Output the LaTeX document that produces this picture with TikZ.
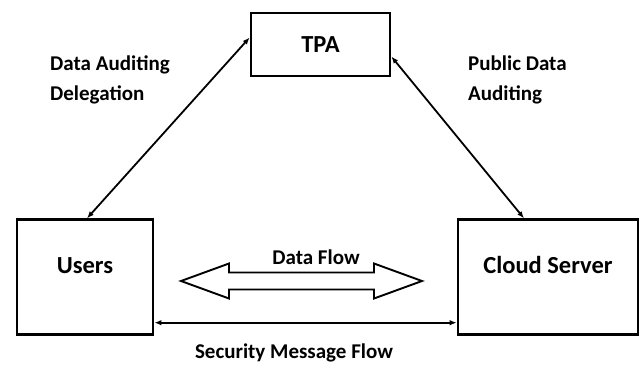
\documentclass[tikz,border=0pt]{standalone}
\usepackage{fontspec}
\setmainfont{Carlito}
\usetikzlibrary{arrows.meta,positioning,calc}

\begin{document}
\begin{tikzpicture}[x=1pt, y=-1pt,
      arr/.style={{Latex[length=7pt,width=5.5pt]}-{Latex[length=7pt,width=5.5pt]}, line width=1.8pt},
      fatarr/.style={draw, line width=1.9pt, line join=miter},
      box/.style={draw, line width=2.7pt, align=center, inner sep=2pt,
                  font=\fontsize{24.5}{29}\selectfont\bfseries},
      lbl/.style={align=left, inner sep=0pt,
                  font=\fontsize{21}{30}\selectfont\bfseries}
    ]
    \useasboundingbox (0,0) rectangle (644,367);
    \node[box, minimum width=139pt, minimum height=63pt] (tpa) at (320.5,44.5) {TPA};
    \node[box, minimum width=136pt, minimum height=115pt, text height=16pt, text depth=23pt,
          below=141pt of tpa.south west, anchor=north west, xshift=-234pt] (users) {Users};
    \node[box, minimum width=180pt, minimum height=115pt, text height=16pt, text depth=23pt,
          below=141pt of tpa.south east, anchor=north east, xshift=248pt] (cloud) {Cloud Server};
    \node[lbl, anchor=west] (delegation) at (50,80) {Data Auditing\\Delegation};
    \node[lbl, anchor=west] (auditing) at (468,80) {Public Data\\Auditing};
    \node[lbl] (dataflow) at (316,257) {Data Flow};
    \node[lbl] (security) at (294,353) {Security Message Flow};
    \draw[arr] ([yshift=7pt]tpa.west) -- ([xshift=2pt]users.north);
    \draw[arr] ([yshift=-12pt]tpa.east) -- ([xshift=-24pt]cloud.north);
    \draw[arr] ([yshift=-45.5pt]users.east) -- ([yshift=-45.5pt]cloud.west);
    \coordinate (flow) at (301.5,281);
    \draw[fatarr] ([xshift=-120.5pt]flow) -- ++(48,-17.5) -- ++(0,9) -- ++(145,0)
      -- ++(0,-9) -- ++(48,17.5) -- ++(-48,17.5) -- ++(0,-9) -- ++(-145,0)
      -- ++(0,9) -- cycle;
  \end{tikzpicture}
\end{document}
